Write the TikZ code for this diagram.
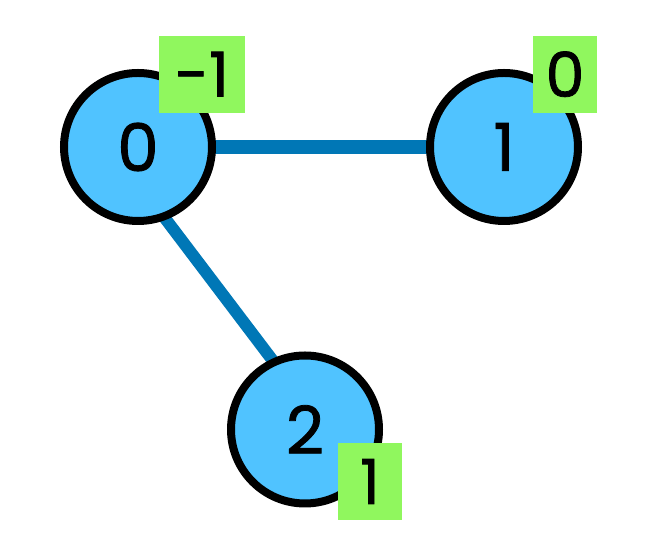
\documentclass[tikz,border=0pt]{standalone}
\usepackage{fontspec}
\setmainfont{Poppins}[FakeBold=1.2]
\usepackage{tikz}
\usetikzlibrary{positioning,backgrounds}
\definecolor{nodeBlue}{RGB}{80,195,255}
\definecolor{edgeBlue}{RGB}{0,119,182}
\definecolor{tagGreen}{RGB}{144,247,94}
\tikzset{
  vertex/.style={circle, draw=black, fill=nodeBlue, line width=8pt, inner sep=0pt,
                 minimum size=148pt, font=\fontsize{66}{66}\selectfont},
  tag/.style={rectangle, fill=tagGreen, inner sep=0pt, minimum height=77pt,
              minimum width=64pt, font=\fontsize{62}{62}\selectfont},
  edge/.style={line width=14pt, draw=edgeBlue}
}
\begin{document}
\begin{tikzpicture}[x=1pt, y=1pt]
\useasboundingbox (0,0) rectangle (654,548);
\foreach \x/\y/\n/\t in {138/401/v0/0, 504/401/v1/1, 305/118.5/v2/2}
  \node[vertex] (\n) at (\x,\y) {\t};
\begin{scope}[on background layer]
\fill[white] (0,0) rectangle (654,548);
\draw[edge] (v0.center) -- (v1.center);
\draw[edge, line width=12pt] ([xshift=-27pt]v0.center) -- ([xshift=20pt]v2.center);
\end{scope}
\node[tag, minimum width=86pt] (t0) at (202,473.8) {-1};
\node[tag] (t1) at (565,473.8) {0};
\node[tag] (t2) at (370,66.5) {1};
\end{tikzpicture}
\end{document}
